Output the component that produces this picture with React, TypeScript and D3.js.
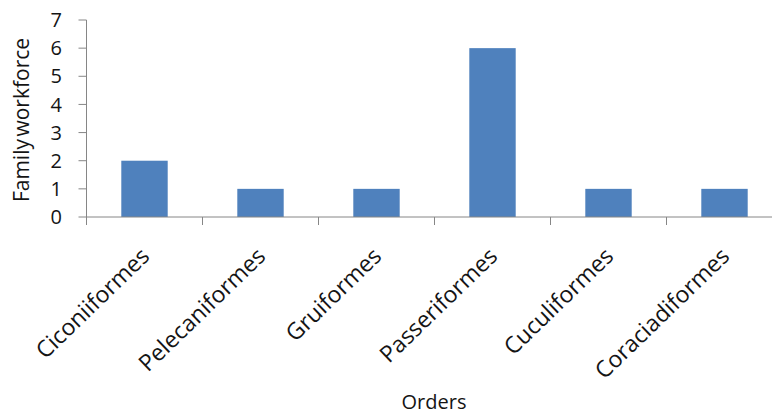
import React from "react";
import * as d3 from "d3";

const orders = ["Ciconiiformes", "Pelecaniformes", "Gruiformes", "Passeriformes", "Cuculiformes", "Coraciadiformes"];
const families = [2, 1, 1, 6, 1, 1];
const yTicks = [0, 1, 2, 3, 4, 5, 6, 7];

const W = 772;
const H = 414;
const left = 86.5;
const right = 782.5;
const top = 20;
const bottom = 217;

export default function App() {
  const x = d3.scaleBand<string>().domain(orders).range([left, right]).paddingInner(0.6).paddingOuter(0.3);
  const band = d3.scaleBand<string>().domain(orders).range([left, right]);
  const y = d3.scaleLinear().domain([0, 7]).range([bottom, top]);
  const font = "'Open Sans', sans-serif";
  const axisColor = "#868686";
  const ink = "#141414";

  return (
    <svg width={W} height={H} style={{ position: "absolute", left: 0, top: 0, background: "#fff" }}>
      {/* bars */}
      {orders.map((o, i) => (
        <rect key={o} x={x(o)} y={y(families[i])} width={x.bandwidth()} height={y(0) - y(families[i])} fill="#4F81BD" />
      ))}
      {/* y axis */}
      <line x1={left} x2={left} y1={top} y2={bottom + 8} stroke={axisColor} strokeWidth={1} />
      {yTicks.map((t) => (
        <g key={t}>
          <line x1={left - 8} x2={left} y1={y(t)} y2={y(t)} stroke={axisColor} />
          <text x={62} y={y(t)} dy="0.36em" textAnchor="end" fontFamily={font} fontSize={20} fill={ink}>
            {t}
          </text>
        </g>
      ))}
      {/* x axis */}
      <line x1={left} x2={right} y1={bottom} y2={bottom} stroke={axisColor} />
      {orders.map((o) => (
        <line key={o} x1={band(o)! + band.bandwidth()} x2={band(o)! + band.bandwidth()} y1={bottom} y2={bottom + 8} stroke={axisColor} />
      ))}
      {orders.map((o) => {
        const cx = band(o)! + band.bandwidth() / 2;
        return (
          <text key={o} transform={`translate(${cx - 5},${246}) rotate(-44)`} dy="0.72em" textAnchor="end" fontFamily={font} fontSize={23} fill={ink}>
            {o}
          </text>
        );
      })}
      {/* titles */}
      <text transform={`translate(22,120) rotate(-90)`} dy="0.35em" textAnchor="middle" fontFamily={font} fontSize={21} fill={ink} wordSpacing={-3}>
        Family workforce
      </text>
      <text x={434} y={409} textAnchor="middle" fontFamily={font} fontSize={20} fill={ink}>
        Orders
      </text>
    </svg>
  );
}
